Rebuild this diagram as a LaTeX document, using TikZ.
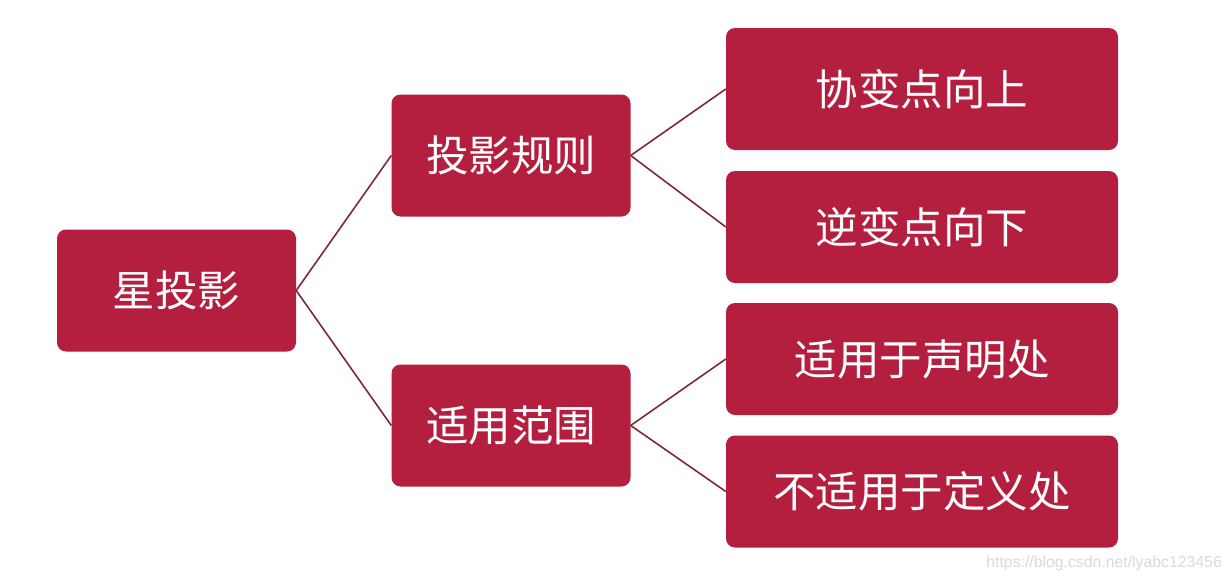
\documentclass[tikz,border=0pt]{standalone}
\usepackage{fontspec}
\setmainfont{Liberation Sans}
\newfontfamily\cjk{Noto Sans CJK SC}
\definecolor{boxred}{RGB}{181,31,63}
\definecolor{linered}{RGB}{125,40,60}
\definecolor{wmgray}{RGB}{218,218,218}
\begin{document}
\begin{tikzpicture}[x=1pt,y=-1pt,
  box/.style={fill=boxred, draw=none, rounded corners=9pt, text=white,
    font=\cjk\fontsize{42.5}{46}\selectfont, inner sep=0pt},
  link/.style={draw=linered, line width=1.6pt}]
\useasboundingbox (0,0) rectangle (1232,581);
\fill[white] (0,0) rectangle (1232,581);
% boxes
\node[box, minimum width=239pt, minimum height=122pt] (root) at (176.5,290.5) {星投影};
\node[box, minimum width=239pt, minimum height=122pt] (m1) at (511,155.5) {投影规则};
\node[box, minimum width=239pt, minimum height=122pt] (m2) at (511,425.5) {适用范围};
\node[box, minimum width=392pt, minimum height=122pt] (l1) at (922,89) {协变点向上};
\node[box, minimum width=392pt, minimum height=112pt] (l2) at (922,227) {逆变点向下};
\node[box, minimum width=392pt, minimum height=112pt] (l3) at (922,359) {适用于声明处};
\node[box, minimum width=392pt, minimum height=112pt] (l4) at (922,491.5) {不适用于定义处};
% connectors
\draw[link] (root.east) -- (m1.west);
\draw[link] (root.east) -- (m2.west);
\draw[link] (m1.east) -- (l1.west);
\draw[link] (m1.east) -- (l2.west);
\draw[link] (m2.east) -- (l3.west);
\draw[link] (m2.east) -- (l4.west);
% watermark
\node[text=wmgray, font=\fontsize{15.8}{18}\selectfont, anchor=east, inner sep=0pt] (wm) at (1222,563) {https://blog.csdn.net/lyabc123456};
\end{tikzpicture}
\end{document}
